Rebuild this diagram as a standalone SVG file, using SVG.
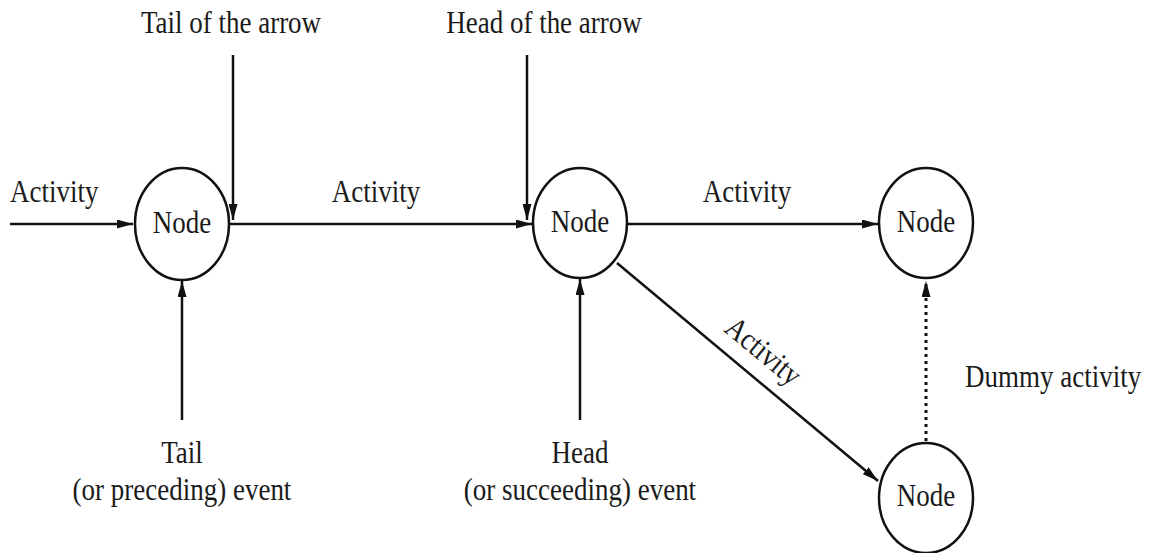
<svg xmlns="http://www.w3.org/2000/svg" width="1158" height="553" viewBox="0 0 1158 553">
<style>
.t{font-family:"Liberation Serif","Times New Roman",serif;font-size:27px;fill:#1a1a1a}
.m{text-anchor:middle}
.n{fill:#fff;stroke:#111;stroke-width:2.5}
.c{stroke:#111;stroke-width:2.5;fill:none}
.d{stroke:#111;stroke-width:3;fill:none;stroke-dasharray:3 4}
</style>
<defs>
<marker id="ah" viewBox="0 0 16 9" refX="16" refY="4.5" markerWidth="16" markerHeight="9" markerUnits="userSpaceOnUse" orient="auto">
<path d="M0,0 L16,4.5 L0,9 Z" fill="#111"/>
</marker>
</defs>
<rect width="1158" height="553" fill="#fff"/>
<g id="connectors">
<line class="c" x1="10" y1="224" x2="133" y2="224" marker-end="url(#ah)"/>
<line class="c" x1="229" y1="224" x2="532" y2="224" marker-end="url(#ah)"/>
<line class="c" x1="627" y1="224" x2="878" y2="224" marker-end="url(#ah)"/>
<line class="c" x1="617" y1="263" x2="878" y2="481" marker-end="url(#ah)"/>
<line class="d" x1="926" y1="441" x2="926" y2="281" marker-end="url(#ah)"/>
<line class="c" x1="233" y1="55" x2="233" y2="220" marker-end="url(#ah)"/>
<line class="c" x1="527" y1="55" x2="527" y2="220" marker-end="url(#ah)"/>
<line class="c" x1="182" y1="420" x2="182" y2="281" marker-end="url(#ah)"/>
<line class="c" x1="580" y1="420" x2="580" y2="279" marker-end="url(#ah)"/>
</g>
<g id="node1"><ellipse class="n" cx="182" cy="224" rx="47" ry="56"/><text class="t m" transform="translate(182,233) scale(1,1.15)">Node</text></g>
<g id="node2"><ellipse class="n" cx="580" cy="223" rx="47" ry="55"/><text class="t m" transform="translate(580,232) scale(1,1.15)">Node</text></g>
<g id="node3"><ellipse class="n" cx="926" cy="223" rx="47" ry="55"/><text class="t m" transform="translate(926,232) scale(1,1.15)">Node</text></g>
<g id="node4"><ellipse class="n" cx="926" cy="498" rx="47" ry="55"/><text class="t m" transform="translate(926,506) scale(1,1.15)">Node</text></g>
<g id="labels">
<text class="t m" transform="translate(231,33) scale(1,1.15)">Tail of the arrow</text>
<text class="t m" transform="translate(544,33) scale(1,1.15)">Head of the arrow</text>
<text class="t" transform="translate(10,202) scale(1,1.15)">Activity</text>
<text class="t m" transform="translate(376,202) scale(1,1.15)">Activity</text>
<text class="t m" transform="translate(747,202) scale(1,1.15)">Activity</text>
<text class="t m" transform="translate(757,359) rotate(39.7) scale(1,1.15)">Activity</text>
<text class="t" transform="translate(965,387) scale(1,1.15)">Dummy activity</text>
<text class="t m" transform="translate(182,463) scale(1,1.15)">Tail</text>
<text class="t m" transform="translate(182,500) scale(1,1.15)">(or preceding) event</text>
<text class="t m" transform="translate(580,463) scale(1,1.15)">Head</text>
<text class="t m" transform="translate(580,500) scale(1,1.15)">(or succeeding) event</text>
</g>
</svg>
